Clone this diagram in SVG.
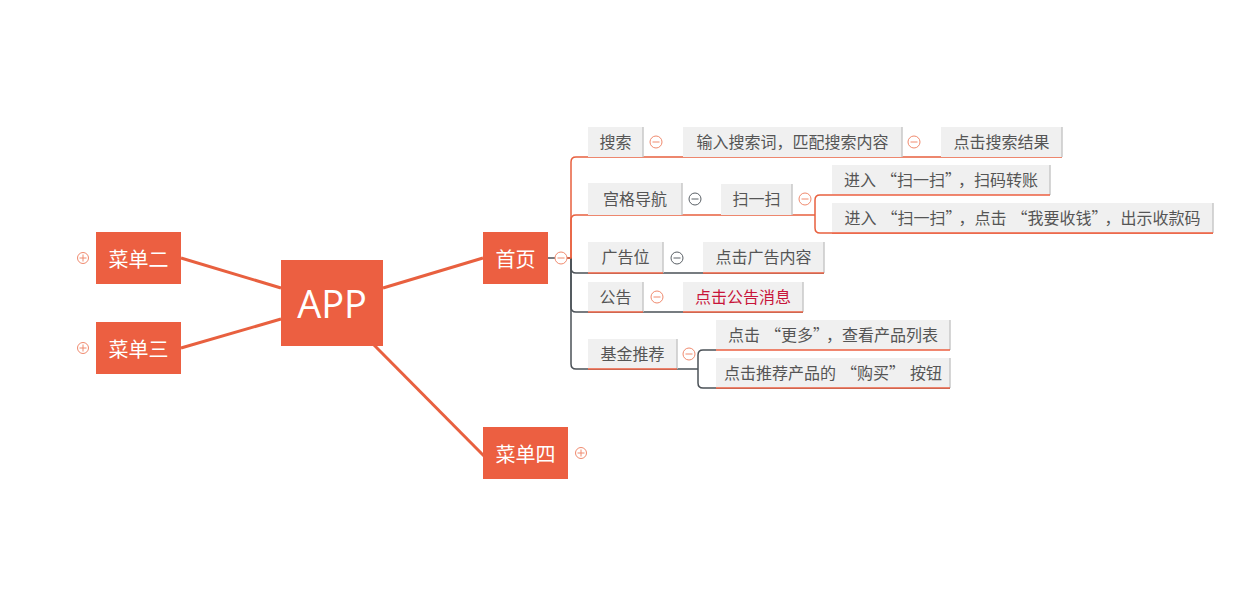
<svg xmlns="http://www.w3.org/2000/svg" width="1236" height="603" viewBox="0 0 1236 603">
<style>
.main{fill:#EC5F41}
.mt{fill:#fff;font-family:"Noto Sans CJK SC","Microsoft YaHei",sans-serif;font-size:20px;text-anchor:middle;dominant-baseline:central}
.big{font-size:38px;font-family:"Open Sans","Noto Sans CJK SC",sans-serif}
.box{fill:#F0F0F0}
.edge{stroke:#C9C9C9;stroke-width:1.5;fill:none}
.ul{stroke:#EC5F41;stroke-width:1.5;fill:none}
.st{fill:#555;font-family:"Noto Sans CJK SC","Microsoft YaHei",sans-serif;font-size:16px;text-anchor:middle;dominant-baseline:central}
.red{fill:#C8153A}
.co{stroke:#E8603F;stroke-width:1.5;fill:none}
.cd{stroke:#4B5157;stroke-width:1.5;fill:none}
.cm{stroke:#E8603F;stroke-width:3;fill:none}
.tg{fill:#fff;stroke:#F08A6E;stroke-width:1}
.tgd{fill:#fff;stroke:#5A6066;stroke-width:1}
.tl{stroke:#F08A6E;stroke-width:1}
.tld{stroke:#5A6066;stroke-width:1}
</style>
<g id="connectors">
<line class="cm" x1="181" y1="258" x2="281" y2="288"/>
<line class="cm" x1="181" y1="348" x2="281" y2="319"/>
<line class="cm" x1="383" y1="288" x2="483" y2="258"/>
<line class="cm" x1="374" y1="345" x2="484" y2="456"/>
<line class="cd" x1="548" y1="258" x2="555" y2="258"/>
<path class="cd" d="M567,258 H571 V364 Q571,369 576,369 H698"/>
<path class="cd" d="M571,258 V268 Q571,273 576,273 H824"/>
<path class="cd" d="M571,258 V307 Q571,312 576,312 H803"/>
<path class="co" d="M567,258 H571 V162 Q571,157 576,157 H1062"/>
<path class="co" d="M571,258 V220 Q571,215 576,215 H815"/>
<path class="co" d="M832,195 H820 Q815,195 815,200 V228 Q815,233 820,233 H1213"/>
<path class="cd" d="M716,350 H703 Q698,350 698,355 V383 Q698,388 703,388 H950"/>
</g>
<g id="app"><rect class="main" x="281" y="260" width="102" height="86"/><text class="mt big" x="332" y="303">APP</text></g>
<g id="menu2"><rect class="main" x="96" y="232" width="85" height="52"/><text class="mt" x="138.5" y="258">菜单二</text>
<circle class="tg" cx="83" cy="258" r="5.5"/><line class="tl" x1="79.5" y1="258" x2="86.5" y2="258"/><line class="tl" x1="83" y1="254.5" x2="83" y2="261.5"/></g>
<g id="menu3"><rect class="main" x="96" y="322" width="85" height="52"/><text class="mt" x="138.5" y="348">菜单三</text>
<circle class="tg" cx="83" cy="348" r="5.5"/><line class="tl" x1="79.5" y1="348" x2="86.5" y2="348"/><line class="tl" x1="83" y1="344.5" x2="83" y2="351.5"/></g>
<g id="menu4"><rect class="main" x="483" y="427" width="85" height="52"/><text class="mt" x="525.5" y="453">菜单四</text>
<circle class="tg" cx="581" cy="453" r="5.5"/><line class="tl" x1="577.5" y1="453" x2="584.5" y2="453"/><line class="tl" x1="581" y1="449.5" x2="581" y2="456.5"/></g>
<g id="home"><rect class="main" x="483" y="232" width="65" height="52"/><text class="mt" x="515.5" y="258">首页</text>
<circle class="tg" cx="561" cy="258" r="6"/><line class="tl" x1="557.5" y1="258" x2="564.5" y2="258"/></g>

<g id="search"><rect class="box" x="588" y="127" width="55" height="30"/><line class="edge" x1="643" y1="127" x2="643" y2="157"/><text class="st" x="615.5" y="141">搜索</text>
<circle class="tg" cx="656" cy="142" r="6"/><line class="tl" x1="652.5" y1="142" x2="659.5" y2="142"/></g>
<g id="search-input"><rect class="box" x="683" y="127" width="219" height="30"/><line class="edge" x1="902" y1="127" x2="902" y2="157"/><text class="st" x="792.5" y="141">输入搜索词，匹配搜索内容</text>
<circle class="tg" cx="914" cy="142" r="6"/><line class="tl" x1="910.5" y1="142" x2="917.5" y2="142"/></g>
<g id="search-result"><rect class="box" x="941" y="127" width="121" height="30"/><line class="edge" x1="1062" y1="127" x2="1062" y2="157"/><text class="st" x="1001.5" y="141">点击搜索结果</text></g>

<g id="grid"><rect class="box" x="588" y="183" width="94" height="32"/><line class="edge" x1="682" y1="183" x2="682" y2="215"/><text class="st" x="635" y="198">宫格导航</text>
<circle class="tgd" cx="695" cy="199" r="6"/><line class="tld" x1="691.5" y1="199" x2="698.5" y2="199"/></g>
<g id="scan"><rect class="box" x="721" y="184" width="71" height="31"/><line class="edge" x1="792" y1="184" x2="792" y2="215"/><text class="st" x="756.5" y="198">扫一扫</text>
<circle class="tg" cx="805" cy="199" r="6"/><line class="tl" x1="801.5" y1="199" x2="808.5" y2="199"/></g>
<g id="scan-transfer"><rect class="box" x="832" y="165" width="218" height="30"/><line class="edge" x1="1050" y1="165" x2="1050" y2="195"/><line class="ul" x1="832" y1="195" x2="1050" y2="195"/><text class="st" x="941" y="179">进入<tspan dx="5">“</tspan>扫一扫”<tspan dx="5">，</tspan>扫码转账</text></g>
<g id="scan-receive"><rect class="box" x="832" y="203" width="381" height="30"/><line class="edge" x1="1213" y1="203" x2="1213" y2="233"/><line class="ul" x1="832" y1="233" x2="1213" y2="233"/><text class="st" x="1022.5" y="217">进入<tspan dx="5">“</tspan>扫一扫”<tspan dx="5">，</tspan>点击<tspan dx="5">“</tspan>我要收钱”<tspan dx="5">，</tspan>出示收款码</text></g>

<g id="ad"><rect class="box" x="588" y="242" width="75" height="31"/><line class="edge" x1="663" y1="242" x2="663" y2="273"/><line class="ul" x1="588" y1="273" x2="663" y2="273"/><text class="st" x="625.5" y="256">广告位</text>
<circle class="tgd" cx="677" cy="258" r="6"/><line class="tld" x1="673.5" y1="258" x2="680.5" y2="258"/></g>
<g id="ad-content"><rect class="box" x="703" y="242" width="121" height="31"/><line class="edge" x1="824" y1="242" x2="824" y2="273"/><line class="ul" x1="703" y1="273" x2="824" y2="273"/><text class="st" x="763.5" y="256">点击广告内容</text></g>

<g id="notice"><rect class="box" x="588" y="282" width="55" height="30"/><line class="edge" x1="643" y1="282" x2="643" y2="312"/><line class="ul" x1="588" y1="312" x2="643" y2="312"/><text class="st" x="615.5" y="296">公告</text>
<circle class="tg" cx="657" cy="297" r="6"/><line class="tl" x1="653.5" y1="297" x2="660.5" y2="297"/></g>
<g id="notice-msg"><rect class="box" x="683" y="282" width="120" height="30"/><line class="edge" x1="803" y1="282" x2="803" y2="312"/><line class="ul" x1="683" y1="312" x2="803" y2="312"/><text class="st red" x="743" y="296">点击公告消息</text></g>

<g id="fund"><rect class="box" x="588" y="339" width="89" height="30"/><line class="edge" x1="677" y1="339" x2="677" y2="369"/><line class="ul" x1="588" y1="369" x2="677" y2="369"/><text class="st" x="632.5" y="353">基金推荐</text>
<circle class="tg" cx="689" cy="354" r="6"/><line class="tl" x1="685.5" y1="354" x2="692.5" y2="354"/></g>
<g id="fund-more"><rect class="box" x="716" y="320" width="234" height="30"/><line class="edge" x1="950" y1="320" x2="950" y2="350"/><line class="ul" x1="716" y1="350" x2="950" y2="350"/><text class="st" x="833" y="334">点击<tspan dx="5">“</tspan>更多”<tspan dx="5">，</tspan>查看产品列表</text></g>
<g id="fund-buy"><rect class="box" x="716" y="358" width="234" height="30"/><line class="edge" x1="950" y1="358" x2="950" y2="388"/><line class="ul" x1="716" y1="388" x2="950" y2="388"/><text class="st" x="833" y="372">点击推荐产品的<tspan dx="5">“</tspan>购买”<tspan dx="5">按</tspan>钮</text></g>
</svg>
